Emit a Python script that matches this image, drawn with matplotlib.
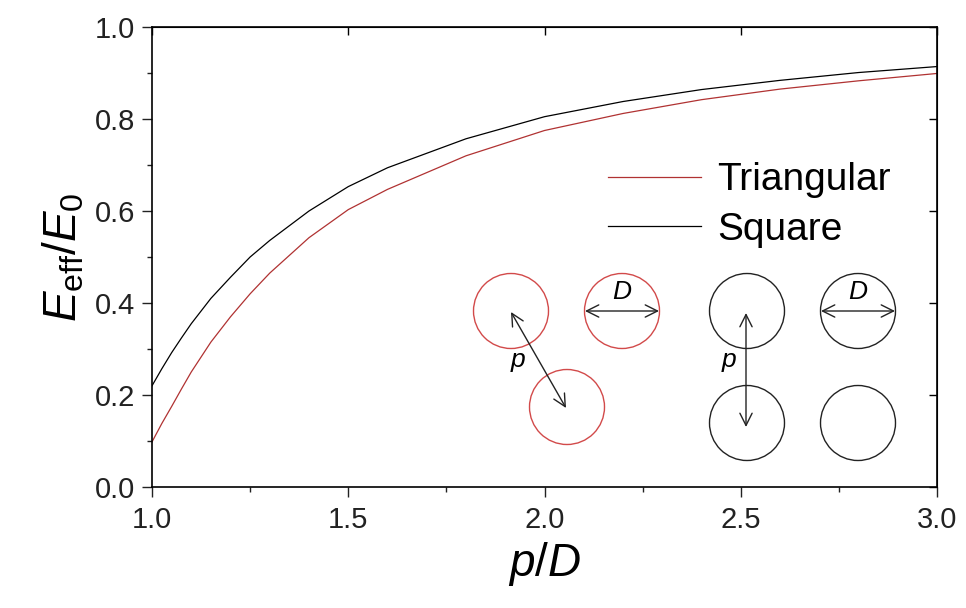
import matplotlib.pyplot as plt
from matplotlib.patches import Circle
from matplotlib.ticker import MultipleLocator

plt.rcParams['font.family'] = ['Liberation Sans', 'DejaVu Sans']
plt.rcParams['mathtext.fontset'] = 'custom'
plt.rcParams['mathtext.rm'] = 'Liberation Sans'
plt.rcParams['mathtext.it'] = 'Liberation Sans:italic'

# Data
p_over_d = [1.0, 1.025, 1.05, 1.075, 1.1, 1.15, 1.2, 1.25, 1.3, 1.4, 1.5, 1.6,
            1.8, 2.0, 2.2, 2.4, 2.6, 2.8, 3.0]
e_square = [0.22, 0.257, 0.292, 0.324, 0.355, 0.41, 0.456, 0.50, 0.536, 0.60, 0.653, 0.694,
            0.757, 0.805, 0.838, 0.864, 0.884, 0.901, 0.914]
e_triangular = [0.098, 0.138, 0.175, 0.213, 0.25, 0.315, 0.37, 0.42, 0.465, 0.542, 0.603, 0.647,
                0.72, 0.775, 0.812, 0.842, 0.865, 0.883, 0.899]

red = '#b03232'
circ_red = '#d24a4a'

fig = plt.figure(figsize=(9.66, 6.08), dpi=100)
ax = fig.add_axes([152/966, 121/608, 785/966, 460/608])

ax.plot(p_over_d, e_triangular, color=red, lw=0.9, label='Triangular')
ax.plot(p_over_d, e_square, color='black', lw=0.9, label='Square')

ax.set_xlim(1.0, 3.0)
ax.set_ylim(0.0, 1.0)
ax.xaxis.set_major_locator(MultipleLocator(0.5))
ax.xaxis.set_minor_locator(MultipleLocator(0.25))
ax.yaxis.set_major_locator(MultipleLocator(0.2))
ax.yaxis.set_minor_locator(MultipleLocator(0.1))
ax.xaxis.set_major_formatter(plt.FormatStrFormatter('%.1f'))
ax.yaxis.set_major_formatter(plt.FormatStrFormatter('%.1f'))
ax.tick_params(which='both', direction='out', labelsize=21, colors='#222222')
ax.tick_params(which='major', length=7, width=1)
ax.tick_params(which='minor', length=3.5, width=1)
ax.tick_params(axis='x', pad=7)
ax.tick_params(axis='y', pad=5)
for s in ax.spines.values():
    s.set_linewidth(1.2)

top = ax.secondary_xaxis('top')
top.set_xticks([1.0, 1.5, 2.0, 2.5, 3.0])
top.tick_params(direction='in', length=6, width=1, labeltop=False)
right = ax.secondary_yaxis('right')
right.set_yticks([0.0, 0.2, 0.4, 0.6, 0.8, 1.0])
right.tick_params(direction='in', length=6, width=1, labelright=False)

ax.set_xlabel(r'$\mathit{p}/\mathit{D}$', fontsize=33, labelpad=4)
ax.set_ylabel(r'$\mathit{E}_{\mathrm{eff}}/\mathit{E}_{\mathit{0}}$', fontsize=33, labelpad=6)

ax.legend(frameon=False, loc='upper left', bbox_to_anchor=(0.561, 0.74),
          fontsize=28, handlelength=2.4, handletextpad=0.4, labelspacing=0.35,
          borderaxespad=0)

# schematic overlay in pixel coordinates
ov = fig.add_axes([0, 0, 1, 1], facecolor='none')
ov.set_xlim(0, 966)
ov.set_ylim(608, 0)
ov.axis('off')
r = 37.5
for cx, cy in [(511, 311), (622, 311), (567, 407)]:
    ov.add_patch(Circle((cx, cy), r, fill=False, ec=circ_red, lw=1))
for cx, cy in [(747, 311), (858, 311), (747, 423), (858, 423)]:
    ov.add_patch(Circle((cx, cy), r, fill=False, ec='#222222', lw=1))
arrow = dict(arrowstyle='<->', color='#222222', lw=1, mutation_scale=22,
             shrinkA=0, shrinkB=0)
ov.annotate('', xy=(566, 408), xytext=(511, 312), arrowprops=arrow)
ov.annotate('', xy=(585, 311), xytext=(659, 311), arrowprops=arrow)
ov.annotate('', xy=(746, 427), xytext=(746, 313), arrowprops=arrow)
ov.annotate('', xy=(821, 311), xytext=(895, 311), arrowprops=arrow)
ov.text(518, 362, r'$\mathit{p}$', fontsize=19, ha='center', va='center')
ov.text(729, 362, r'$\mathit{p}$', fontsize=19, ha='center', va='center')
ov.text(622, 292, r'$\mathit{D}$', fontsize=19, ha='center', va='center')
ov.text(858, 292, r'$\mathit{D}$', fontsize=19, ha='center', va='center')

fig.savefig('out.png', dpi=100)
